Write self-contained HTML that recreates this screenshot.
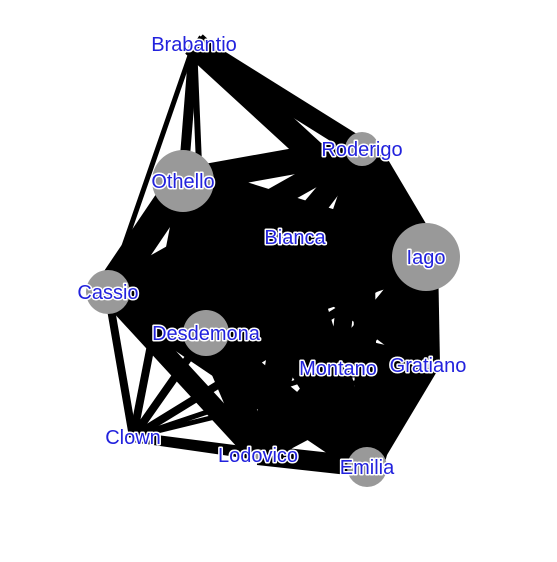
<!DOCTYPE html>
<html><head><meta charset="utf-8"><style>
html,body{margin:0;padding:0;background:#fff;width:557px;height:562px;overflow:hidden}
svg text{font-family:"Liberation Sans",sans-serif;font-size:20px;fill:#2222dd;stroke:#fff;stroke-width:3px;paint-order:stroke;stroke-linejoin:round}
</style></head><body>
<svg id="chart" width="557" height="562" viewBox="0 0 557 562" xmlns="http://www.w3.org/2000/svg">
<g id="edges"></g>
<g id="nodes"></g>
<g id="labels"></g>
</svg>
<script>
const names=["Brabantio","Roderigo","Othello","Bianca","Iago","Cassio","Desdemona","Montano","Gratiano","Clown","Lodovico","Emilia"];
const xs=[194,362,183,295,426,108,206,338,428,133,258,367];
const ys=[44,149,181,237,257,292,333,368,365,437,455,467];
const sizes=[3,17,31,4,34,22,23,3,3,2,6,20];
const edgeSrc=[0,0,0,0,0, 1,1,1,1,1,1,1,1,1, 2,2,2,2,2,2,2,2,2, 3,3,3,3,3,3,3, 4,4,4,4,4,4,4, 5,5,5,5,5,5, 6,6,6,6,6, 7,7,7,7, 8,8,8, 9,9, 10];
const edgeTgt=[1,2,4,5,6, 2,3,4,5,6,7,8,10,11, 3,4,5,6,7,8,9,10,11, 4,5,6,7,8,10,11, 5,6,7,8,9,10,11, 6,7,8,9,10,11, 7,8,9,10,11, 8,9,10,11, 9,10,11, 10,11, 11];
const edgeW=[20,10,26,5,6, 26,18,34,22,20,18,16,16,22, 20,36,30,36,20,20,8,22,28, 22,28,20,16,16,16,20, 34,34,26,24,8,22,32, 32,22,20,8,20,22, 22,16,8,22,26, 20,5,20,22, 5,20,22, 10,10, 20];
const ns="http://www.w3.org/2000/svg";
const eg=document.getElementById('edges'),ng=document.getElementById('nodes'),lg=document.getElementById('labels');
for(let i=0;i<edgeSrc.length;i++){
  const a=edgeSrc[i],b=edgeTgt[i];
  const l=document.createElementNS(ns,'line');
  l.setAttribute('x1',xs[a]);l.setAttribute('y1',ys[a]);l.setAttribute('x2',xs[b]);l.setAttribute('y2',ys[b]);
  l.setAttribute('stroke','#000');l.setAttribute('stroke-width',edgeW[i]);
  
  
  eg.appendChild(l);
}
for(let i=0;i<names.length;i++){
  const c=document.createElementNS(ns,'circle');
  c.setAttribute('cx',xs[i]);c.setAttribute('cy',ys[i]);c.setAttribute('r',sizes[i]);c.setAttribute('fill','#999');
  
  
  ng.appendChild(c);
  const t=document.createElementNS(ns,'text');
  t.setAttribute('x',xs[i]);t.setAttribute('y',ys[i]+7);t.setAttribute('text-anchor','middle');
  t.textContent=names[i];
  
  
  lg.appendChild(t);
}
</script>
</body></html>
